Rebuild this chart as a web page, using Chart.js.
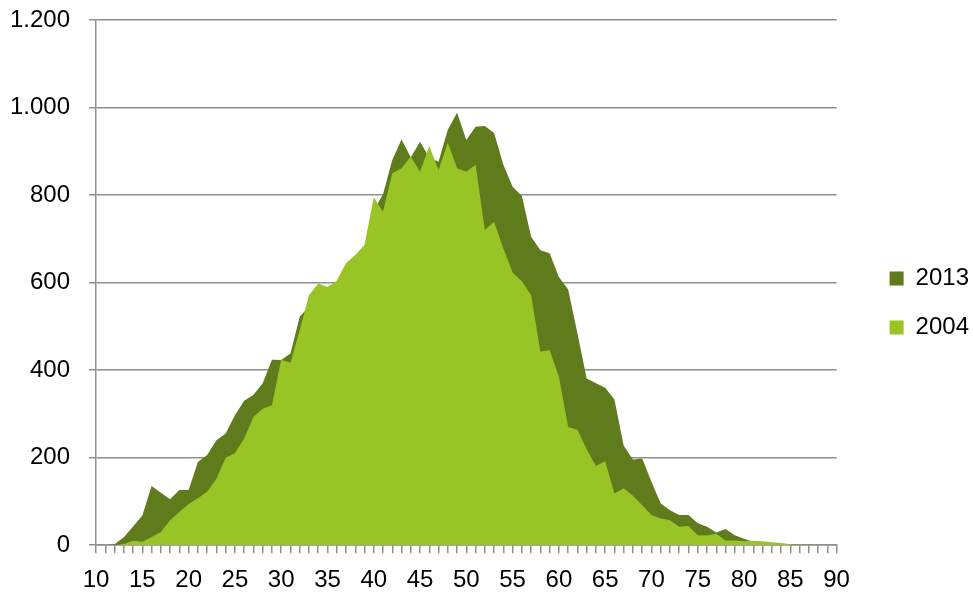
<!DOCTYPE html>
<html lang="de">
<head>
  <meta charset="UTF-8">
  <title>2004 / 2013</title>
  <style>
    body {
      margin: 0;
      background: #fff;
    }
    #wrap {
      width: 973px;
      height: 594px;
      position: relative;
    }
  </style>
</head>
<body>
  <div id="wrap"><canvas id="chart"></canvas></div>

  <script src="https://cdn.jsdelivr.net/npm/chart.js"></script>
  <script>
    // ages 10..90
    const ages = [];
    for (let a = 10; a <= 90; a++) ages.push(String(a));

    const values2013 = [
      0, 0, 2, 18, 43, 68, 135, 120, 105, 126,
      126, 190, 206, 240, 255, 297, 330, 343, 370, 424,
      423, 438, 522, 545, 590, 585, 600, 638, 658, 678,
      765, 802, 880, 927, 886, 922, 885, 876, 949, 988,
      926, 956, 958, 942, 869, 819, 798, 705, 674, 667,
      613, 584, 484, 381, 370, 360, 333, 227, 196, 198,
      145, 95, 80, 69, 69, 50, 42, 29, 37, 23,
      15, 8, 6, 5, 3, 2, 1, 1, 0, 0,
      0
    ];

    const values2004 = [
      0, 0, 0, 3, 10, 8, 19, 30, 57, 76,
      94, 107, 122, 152, 200, 210, 244, 293, 312, 320,
      424, 417, 491, 571, 598, 590, 604, 644, 663, 686,
      795, 762, 850, 861, 888, 853, 912, 857, 920, 861,
      853, 869, 720, 739, 678, 623, 603, 571, 442, 446,
      385, 270, 264, 219, 181, 192, 118, 130, 113, 91,
      69, 61, 57, 42, 44, 23, 22, 26, 11, 11,
      9, 10, 9, 7, 5, 2, 1, 1, 0, 0,
      0
    ];

    const yTicks = [0, 200, 400, 600, 800, 1000, 1200];

    const gridGray = '#8e8e93';
    const fontFamily = '"Liberation Sans", Arial, sans-serif';

    // push the legend a bit to the right, like the original
    const legendShift = {
      id: 'legendShift',
      afterLayout(chart) {
        const lg = chart.legend;
        if (!lg) return;
        lg.left += 28;
        lg.right += 28;
        lg.top -= 1;
        lg.bottom -= 1;
      }
    };

    const ctx = document.getElementById('chart').getContext('2d');
    new Chart(ctx, {
      type: 'line',
      data: {
        labels: ages,
        datasets: [
          {
            label: '2004',
            data: values2004,
            backgroundColor: '#98c425',
            borderColor: 'rgba(0,0,0,0)',
            borderWidth: 0,
            pointRadius: 0,
            fill: 'origin',
            tension: 0
          },
          {
            label: '2013',
            data: values2013,
            backgroundColor: '#5f7b1b',
            borderColor: 'rgba(0,0,0,0)',
            borderWidth: 0,
            pointRadius: 0,
            fill: 'origin',
            tension: 0
          }
        ]
      },
      options: {
        responsive: true,
        maintainAspectRatio: false,
        animation: false,
        layout: { padding: { left: -9, top: 0, right: 22, bottom: -14 } },
        plugins: {
          tooltip: { enabled: false },
          legend: {
            position: 'right',
            reverse: true,
            labels: {
              boxWidth: 14,
              boxHeight: 14,
              padding: 25,
              color: '#000',
              font: { family: fontFamily, size: 24 }
            }
          }
        },
        scales: {
          x: {
            type: 'category',
            offset: false,
            grid: {
              drawOnChartArea: false,
              drawTicks: true,
              tickLength: 8,
              color: gridGray,
              lineWidth: 1.5
            },
            border: { display: true, color: gridGray, width: 1.5 },
            ticks: {
              autoSkip: false,
              maxRotation: 0,
              padding: 13,
              color: '#000',
              font: { family: fontFamily, size: 24 },
              callback: function (v, i) {
                const lab = ages[i];
                return Number(lab) % 5 === 0 ? lab : '';
              }
            }
          },
          y: {
            min: 0,
            max: 1200,
            afterBuildTicks: (axis) => {
              axis.ticks = yTicks.map(v => ({ value: v }));
            },
            afterFit: (axis) => {
              axis.paddingTop = 20;
            },
            grid: {
              color: gridGray,
              lineWidth: 1.5,
              tickLength: 7
            },
            border: { display: true, color: gridGray, width: 1.5 },
            ticks: {
              padding: 19,
              color: '#000',
              font: { family: fontFamily, size: 24 },
              callback: v => String(v).replace(/\B(?=(\d{3})+(?!\d))/g, '.')
            }
          }
        }
      },
      plugins: [legendShift]
    });
  </script>
</body>
</html>
